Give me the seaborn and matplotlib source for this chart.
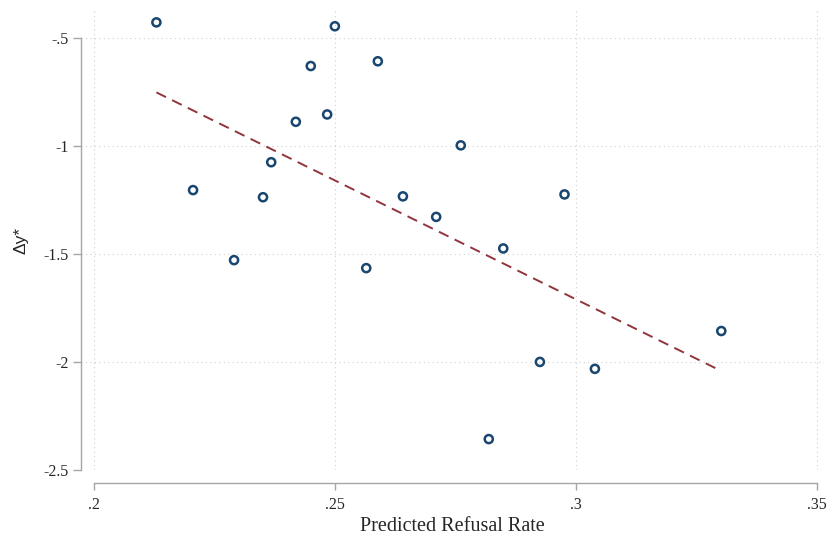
import matplotlib
matplotlib.use("Agg")
import matplotlib.pyplot as plt
import seaborn as sns
import pandas as pd

# Predicted refusal rate and change in outcome for each unit
refusal_rate = [0.2130, 0.2500, 0.2450, 0.2589, 0.2419, 0.2484, 0.2761,
                0.2368, 0.2206, 0.2351, 0.2641, 0.2976, 0.2710, 0.2849,
                0.2291, 0.2565, 0.3301, 0.2925, 0.3039, 0.2819]
delta_y = [-0.429, -0.447, -0.631, -0.609, -0.889, -0.855, -0.998,
           -1.076, -1.205, -1.238, -1.234, -1.225, -1.329, -1.475,
           -1.529, -1.566, -1.857, -2.000, -2.032, -2.357]

# Fitted line over the observed range of the predicted refusal rate
fit_rate = [0.2130, 0.3301]
fit_delta_y = [-0.753, -2.042]

x_ticks = [0.20, 0.25, 0.30, 0.35]
x_tick_labels = [".2", ".25", ".3", ".35"]
y_ticks = [-2.5, -2.0, -1.5, -1.0, -0.5]
y_tick_labels = ["-2.5", "-2", "-1.5", "-1", "-.5"]

df = pd.DataFrame({"rate": refusal_rate, "dy": delta_y})
fit = pd.DataFrame({"rate": fit_rate, "dy": fit_delta_y})

sns.set_style("white")
plt.rcParams["font.family"] = ["Liberation Serif", "DejaVu Serif"]

W, H = 827, 538
fig = plt.figure(figsize=(W / 100, H / 100), dpi=100)
ax = fig.add_axes([81 / W, (H - 470) / H, 743 / W, 459 / H])

navy = "#1a476f"
maroon = "#90353b"
axis_gray = "#a6a6a6"

sns.lineplot(data=fit, x="rate", y="dy", ax=ax, color=maroon, lw=1.4,
             linestyle=(0, (5.5, 3.5)), zorder=2)
sns.scatterplot(data=df, x="rate", y="dy", ax=ax, s=34, facecolors="none",
                edgecolor=navy, linewidth=1.8, zorder=3)

ax.set_xlim(0.19737, 0.35139)
ax.set_ylim(-2.5, -0.3764)

ax.set_xticks(x_ticks)
ax.set_xticklabels(x_tick_labels)
ax.set_yticks(y_ticks)
ax.set_yticklabels(y_tick_labels)

ax.grid(True, color="#d0d0d0", linestyle=(0, (1, 3)), linewidth=0.8)
ax.set_axisbelow(True)

for side in ("top", "right"):
    ax.spines[side].set_visible(False)
ax.spines["left"].set_bounds(-2.5, -0.5)
ax.spines["bottom"].set_bounds(0.2, 0.35)
ax.spines["bottom"].set_position(("outward", 9.1))
for side in ("left", "bottom"):
    ax.spines[side].set_color(axis_gray)
    ax.spines[side].set_linewidth(1.0)

ax.tick_params(axis="y", direction="out", length=5.8, width=1.0,
               color=axis_gray, pad=3, labelsize=11.5, left=True)
ax.tick_params(axis="x", direction="out", length=5.0, width=1.0,
               color=axis_gray, pad=5, labelsize=11.5, bottom=True)

ax.set_xlabel("Predicted Refusal Rate", fontsize=14.5, labelpad=3)
ax.set_ylabel("Δy*", fontsize=12.5, labelpad=11, fontfamily="Liberation Sans")

fig.savefig("out.png", dpi=100, facecolor="white")
